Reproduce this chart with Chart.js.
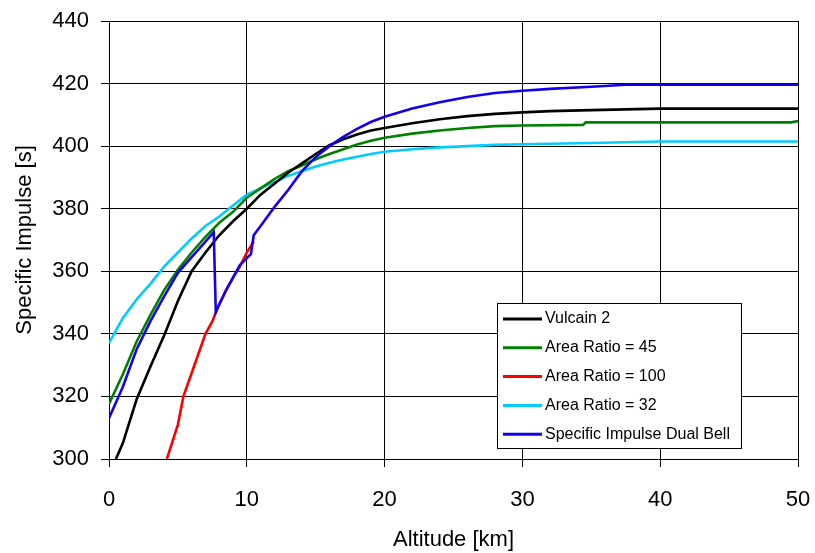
<!DOCTYPE html>
<html>
<head>
<meta charset="utf-8">
<script src="https://cdn.jsdelivr.net/npm/chart.js@4/dist/chart.umd.min.js"></script>
<style>
  html, body { margin: 0; padding: 0; background: #fff; }
  canvas { display: block; }
</style>
</head>
<body>
<canvas id="myChart" width="815" height="553"></canvas>
<script>
// altitude [km] / specific impulse [s]
const vulcainAlt = [0.5, 1, 2, 3, 4, 5, 6, 7, 8, 9, 10, 11, 12, 13, 14, 15, 16, 17, 18, 19, 20, 22, 24, 26, 28, 30, 32, 35, 40, 45, 50];
const vulcainIsp = [300, 305, 319, 329.5, 339.5, 350.5, 360, 366, 371.5, 376, 380, 384.5, 388, 391.5, 394.5, 397.5, 400.3, 402.2, 403.7, 405, 405.8, 407.3, 408.6, 409.6, 410.3, 410.8, 411.2, 411.5, 412, 412, 412];

const ar45Alt = [0, 1, 2, 3, 4, 5, 6, 7, 8, 9, 10, 11, 12, 13, 14, 15, 16, 17, 18, 19, 20, 22, 24, 26, 28, 30, 34.4, 34.6, 49.5, 50];
const ar45Isp = [317.6, 327, 337.5, 346, 354, 360.5, 366, 371, 375.5, 379, 383.5, 386.5, 389.5, 392, 393.8, 395.8, 397.5, 399, 400.5, 401.7, 402.7, 404, 405, 405.8, 406.4, 406.6, 406.8, 407.6, 407.6, 408];

const ar100Alt = [4.2, 5, 5.4, 6, 7, 7.5, 8, 8.5, 9, 9.5, 10, 10.5];
const ar100Isp = [300, 311, 320, 327.5, 340, 344, 349.5, 354, 358, 361.5, 366, 369.5];

const ar32Alt = [0, 0.5, 1, 2, 3, 4, 5, 6, 7, 8, 9, 10, 11, 12, 13, 14, 15, 16, 17, 18, 19, 20, 22, 24, 26, 28, 30, 35, 40, 50];
const ar32Isp = [337, 341, 345, 351, 356, 361.5, 366, 370.5, 374.5, 377.5, 381, 384.5, 386.5, 388.5, 390.5, 392, 393.5, 394.7, 395.7, 396.6, 397.5, 398.2, 399, 399.6, 400, 400.4, 400.6, 401, 401.5, 401.5];

const dualAlt = [0, 1, 2, 3, 4, 5, 6, 7, 7.6, 7.75, 8.5, 9, 9.5, 10.3, 10.5, 11, 12, 13, 14, 15, 16, 17, 18, 19, 20, 22, 24, 26, 28, 30, 32, 35, 37.5, 50];
const dualIsp = [313, 323, 335, 344, 352, 359.5, 364.5, 369.5, 372.5, 347, 354, 358, 362, 365.5, 371.5, 374.5, 380.5, 386, 392, 396.5, 400, 403, 405.5, 407.7, 409.4, 412, 414, 415.7, 417, 417.7, 418.3, 419, 419.6, 419.6];

const seriesNames = ['Vulcain 2', 'Area Ratio = 45', 'Area Ratio = 100', 'Area Ratio = 32', 'Specific Impulse Dual Bell'];
const seriesColors = ['#000000', '#008000', '#FF0000', '#00CCFF', '#1400F0'];

function pairs(xs, ys) {
    return xs.map((x, i) => ({ x: x, y: ys[i] }));
}

const allData = [
    pairs(vulcainAlt, vulcainIsp),
    pairs(ar45Alt, ar45Isp),
    pairs(ar100Alt, ar100Isp),
    pairs(ar32Alt, ar32Isp),
    pairs(dualAlt, dualIsp)
];
const drawOrder = [2, 4, 3, 5, 1];

// legend box drawn inside the plot, like the original
const boxLegend = {
    id: 'boxLegend',
    afterDatasetsDraw(chart) {
        const ctx = chart.ctx;
        const left = 497, top = 303, w = 244, h = 145;
        ctx.save();
        ctx.fillStyle = '#fff';
        ctx.fillRect(left, top, w, h);
        ctx.strokeStyle = '#000';
        ctx.lineWidth = 1;
        ctx.strokeRect(left + 0.5, top + 0.5, w, h);
        ctx.font = '16px "Liberation Sans", Arial, sans-serif';
        ctx.textBaseline = 'middle';
        chart.data.datasets.forEach((ds, i) => {
            const y = top + 16 + i * 28.8;
            ctx.strokeStyle = ds.borderColor;
            ctx.lineWidth = 3;
            ctx.beginPath();
            ctx.moveTo(left + 6, y);
            ctx.lineTo(left + 45, y);
            ctx.stroke();
            ctx.fillStyle = '#000';
            ctx.fillText(ds.label, left + 48, y);
        });
        ctx.restore();
    }
};

const fontFam = '"Liberation Sans", Arial, sans-serif';

new Chart(document.getElementById('myChart').getContext('2d'), {
    type: 'line',
    data: {
        datasets: allData.map((d, i) => ({
            label: seriesNames[i],
            data: d,
            borderColor: seriesColors[i],
            backgroundColor: seriesColors[i],
            borderWidth: 2.6,
            pointRadius: 0,
            tension: 0,
            fill: false,
            order: drawOrder[i]
        }))
    },
    options: {
        responsive: false,
        animation: false,
        layout: { padding: { top: 21, right: 17, left: 0, bottom: 0 } },
        plugins: {
            legend: { display: false },
            tooltip: { enabled: false }
        },
        scales: {
            x: {
                type: 'linear',
                min: 0,
                max: 50,
                afterFit: (scale) => {
                    scale.height = 94;
                    scale.paddingLeft = 0;
                    scale.paddingRight = 0;
                },
                ticks: {
                    stepSize: 10,
                    padding: 20,
                    color: '#000',
                    font: { family: fontFam, size: 22 }
                },
                grid: { color: '#000', lineWidth: 1, tickLength: 8 },
                border: { color: '#000' },
                title: {
                    display: true,
                    text: 'Altitude [km]',
                    color: '#000',
                    padding: { top: 0, bottom: 0 },
                    font: { family: fontFam, size: 22 }
                }
            },
            y: {
                type: 'linear',
                min: 300,
                max: 440,
                afterFit: (scale) => {
                    scale.width = 109;
                    scale.paddingTop = 0;
                    scale.paddingBottom = 0;
                },
                ticks: {
                    stepSize: 20,
                    padding: 12,
                    color: '#000',
                    font: { family: fontFam, size: 22 }
                },
                grid: { color: '#000', lineWidth: 1, tickLength: 8 },
                border: { color: '#000' },
                title: {
                    display: true,
                    text: 'Specific Impulse [s]',
                    color: '#000',
                    padding: { top: 12, bottom: 0 },
                    font: { family: fontFam, size: 22 }
                }
            }
        }
    },
    plugins: [boxLegend]
});
</script>
</body>
</html>
